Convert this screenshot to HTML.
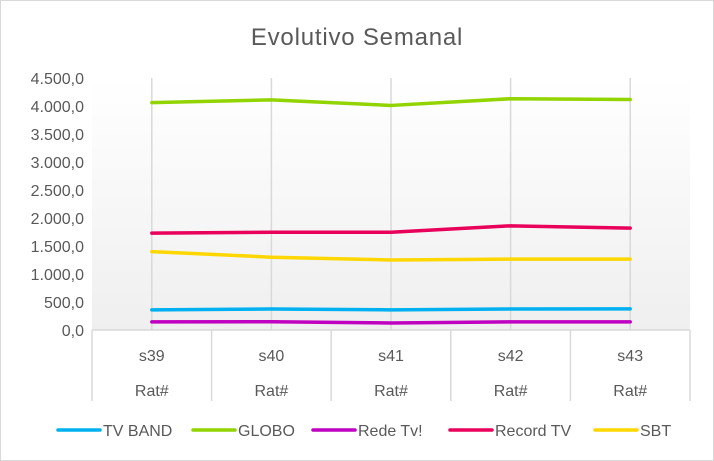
<!DOCTYPE html>
<html><head><meta charset="utf-8"><style>
body{margin:0;background:#fff;}
svg{display:block;font-family:"Liberation Sans",sans-serif;}
</style></head><body>
<svg id="chart" width="714" height="461" viewBox="0 0 714 461">
<defs><linearGradient id="bg" x1="0" y1="0" x2="0" y2="1"><stop offset="0" stop-color="#ffffff"/><stop offset="1" stop-color="#efefef"/></linearGradient></defs>
<rect x="0.5" y="0.5" width="713" height="460" fill="#fff" stroke="#d9d9d9"/>
<rect x="92" y="78" width="598" height="252" fill="url(#bg)"/>
<text x="357" y="45" text-anchor="middle" font-size="24" letter-spacing="0.8" fill="#595959">Evolutivo  Semanal</text>
<g id="yaxis"></g><g id="xaxis"></g><g id="series"></g><g id="legend"></g>
</svg>
<script>
const categories=["s39","s40","s41","s42","s43"];
const subLabel="Rat#";
const yTicks=[0,500,1000,1500,2000,2500,3000,3500,4000,4500];
const yTickLabels=["0,0","500,0","1.000,0","1.500,0","2.000,0","2.500,0","3.000,0","3.500,0","4.000,0","4.500,0"];
const seriesNames=["TV BAND","GLOBO","Rede Tv!","Record TV","SBT"];
const tvBand=[360,375,360,375,378];
const globo=[4060,4110,4010,4130,4115];
const redeTv=[145,148,125,145,145];
const recordTv=[1730,1745,1745,1860,1820];
const sbt=[1400,1300,1250,1265,1265];
const colors=["#00b0f0","#92d400","#c000c0","#e8005a","#ffd700"];
const NS="http://www.w3.org/2000/svg";
const L=92,R=690,T=78,B=330,ymax=4500;
const bw=(R-L)/categories.length;
const y=v=>B-v/ymax*(B-T);
const x=i=>L+bw*(i+0.5);
function mk(t,a,p){const e=document.createElementNS(NS,t);for(const k in a)e.setAttribute(k,a[k]);p.appendChild(e);return e;}
const ya=document.getElementById('yaxis');
yTicks.forEach((v,i)=>{const t=mk('text',{x:84,y:y(v)+6,'text-anchor':'end','font-size':16,fill:'#595959'},ya);


t.textContent=yTickLabels[i];});
const xa=document.getElementById('xaxis');
categories.forEach((c,i)=>{
const g=mk('line',{x1:x(i),x2:x(i),y1:T,y2:B,stroke:'#d9d9d9','stroke-width':1.5},xa);


const t=mk('text',{x:x(i),y:361,'text-anchor':'middle','font-size':16,fill:'#595959'},xa);


t.textContent=c;
const t2=mk('text',{x:x(i),y:396,'text-anchor':'middle','font-size':16,fill:'#595959'},xa);


t2.textContent=subLabel;});
for(let i=0;i<=categories.length;i++){const l=mk('line',{x1:L+bw*i,x2:L+bw*i,y1:B,y2:401,stroke:'#d9d9d9','stroke-width':1.5},xa);

}
const ax=mk('line',{x1:L,x2:R,y1:B,y2:B,stroke:'#d9d9d9','stroke-width':1.5},xa);


const sg=document.getElementById('series');
[tvBand,globo,redeTv,recordTv,sbt].forEach((d,s)=>{
const p=mk('polyline',{points:d.map((v,i)=>x(i)+','+y(v)).join(' '),fill:'none',stroke:colors[s],'stroke-width':3.5,'stroke-linejoin':'round','stroke-linecap':'round'},sg);

});
const lg=document.getElementById('legend');
const lx=[58,193,313,450,595];
seriesNames.forEach((n,s)=>{
const e=mk('g',{},lg);


mk('line',{x1:lx[s],x2:lx[s]+42,y1:430,y2:430,stroke:colors[s],'stroke-width':3.5,'stroke-linecap':'round'},e);
const t=mk('text',{x:lx[s]+45,y:436,'font-size':16,fill:'#595959'},e);
t.textContent=n;});
</script>
</body></html>
